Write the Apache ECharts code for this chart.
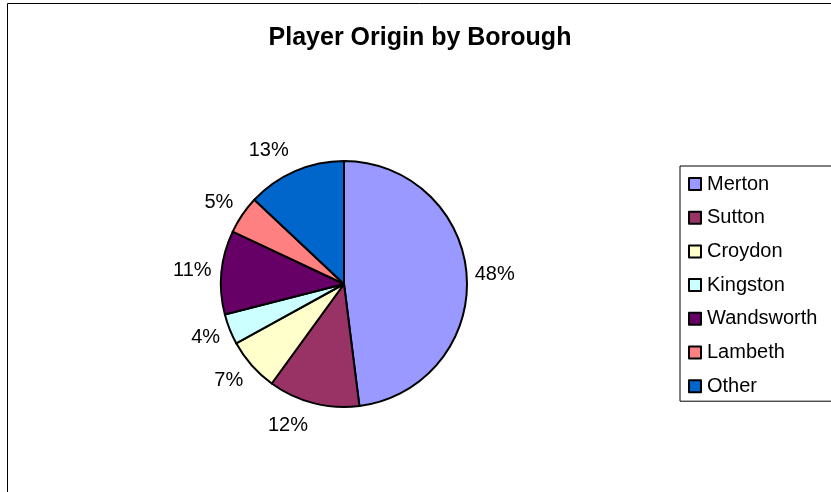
<!DOCTYPE html>
<html><head><meta charset="utf-8">
<script src="https://cdn.jsdelivr.net/npm/echarts@6/dist/echarts.min.js"></script>
<style>html,body{margin:0;padding:0;background:#fff}#c{width:831px;height:492px}</style>
</head><body><div id="c"></div>
<script>
const categories = ['Merton','Sutton','Croydon','Kingston','Wandsworth','Lambeth','Other'];
const values = [48, 12, 7, 4, 11, 5, 13];
const colors = ['#9999FF','#993366','#FFFFCC','#CCFFFF','#660066','#FF8080','#0066CC'];
const chart = echarts.init(document.getElementById('c'));
const font = '"Liberation Sans", Arial, sans-serif';
const CX = 344, CY = 284;
chart.setOption({
  animation: false,
  backgroundColor: '#fff',
  title: {text: 'Player Origin by Borough', left: 415, textAlign: 'center', top: 21,
    textStyle: {fontFamily: font, fontSize: 25, fontWeight: 'bold', color: '#000'}},
  graphic: [{type: 'rect', shape: {x: 7.5, y: 3.5, width: 1000, height: 800},
    style: {fill: 'none', stroke: '#000', lineWidth: 1}, silent: true}],
  legend: {orient: 'vertical', left: 680, top: 166, data: categories,
    icon: 'rect', itemWidth: 12, itemHeight: 12, itemGap: 13.7,
    padding: [8, 30, 5, 8], borderColor: '#000', borderWidth: 1,
    textStyle: {fontFamily: font, fontSize: 20, color: '#000', padding: [0, 0, 0, 1]},
    itemStyle: {borderColor: '#000', borderWidth: 2}},
  series: [{type: 'pie', center: [CX, CY], radius: 123, startAngle: 90, clockwise: true,
    data: categories.map((n, i) => ({name: n, value: values[i], itemStyle: {color: colors[i]}})),
    itemStyle: {borderColor: '#000', borderWidth: 2},
    label: {show: true, position: 'outside', formatter: p => p.value + '%',
      fontFamily: font, fontSize: 20, color: '#000', distanceToLabelLine: 2},
    labelLine: {show: false, length: 6, length2: 0},
    labelLayout: function (p) {
      const r = p.labelRect;
      const lx = r.x + r.width / 2 - CX, ly = r.y + r.height / 2 - CY;
      const d = Math.sqrt(lx * lx + ly * ly) || 1;
      return {dx: lx < 0 ? -2 : 0, dy: 18 * ly / d};
    },
    emphasis: {disabled: true}}]
});
</script></body></html>
